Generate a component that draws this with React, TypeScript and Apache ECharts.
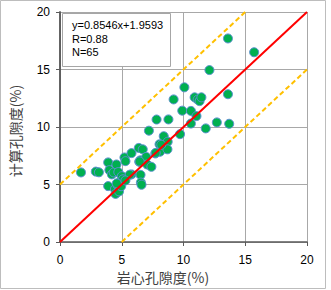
import React, { useEffect, useRef } from "react";
import * as echarts from "echarts";

const coreX = [
  1.7, 2.9, 3.15, 3.9, 3.9, 4.0, 4.2, 4.35, 4.57, 4.72,
  4.45, 4.5, 4.65, 4.8, 4.78, 4.95, 5.0, 5.1, 5.22, 5.3,
  5.79, 5.79, 5.65, 6.38, 6.42, 6.5, 6.7, 6.52, 6.55, 6.6,
  6.98, 7.06, 7.4, 7.2, 7.72, 7.82, 8.06, 8.1, 8.4, 8.72,
  8.7, 8.78, 9.2, 9.72, 9.9, 10.07, 10.6, 10.6, 10.9, 11.05,
  11.15, 11.3, 11.45, 11.8, 12.1, 12.7, 13.6, 13.6, 13.7, 15.72,
  7.75, 8.2, 6.45, 4.6, 5.3,
];
const calcY = [
  6.05, 6.12, 6.06, 6.92, 4.86, 6.25, 5.88, 6.05, 6.74, 6.08,
  4.6, 4.18, 4.95, 5.15, 4.4, 4.85, 5.72, 5.45, 7.35, 7.03,
  7.73, 5.88, 5.85, 8.18, 6.98, 7.1, 8.06, 5.84, 5.17, 4.98,
  7.4, 6.74, 6.54, 9.68, 7.7, 10.65, 8.5, 7.85, 9.2, 8.72,
  8.06, 10.66, 12.4, 9.38, 11.42, 13.45, 11.4, 10.3, 12.58, 10.95,
  12.38, 12.25, 12.58, 9.88, 14.95, 10.4, 17.7, 12.85, 10.28, 16.5,
  7.75, 8.45, 7.0, 5.1, 5.35,
];

const axisMin = 0;
const axisMax = 20;
const axisStep = 5;

const diagonalLine = [[0, 0], [20, 20]];
const upperBand = [[0, 5], [15, 20]];
const lowerBand = [[5, 0], [20, 15]];

const statLines = ["y=0.8546x+1.9593", "R=0.88", "N=65"];
const xTitle = "岩心孔隙度(%)";
const yTitle = "计算孔隙度(%)";

const numFont = '"Liberation Sans", "Noto Sans", sans-serif';
const cjkFont = '"Noto Sans CJK SC", "Noto Sans", sans-serif';

export default function App() {
  const ref = useRef<HTMLDivElement>(null);
  useEffect(() => {
    if (!ref.current) return;
    const chart = echarts.init(ref.current, undefined, { renderer: "svg" });
    const axisColor = "#5a5a5a";
    const gridColor = "#a8a8a8";
    const common = {
      type: "value" as const,
      min: axisMin,
      max: axisMax,
      interval: axisStep,
      axisLine: { show: true, onZero: false, lineStyle: { color: axisColor, width: 1.5 } },
      axisTick: { show: true, inside: false, length: 4, lineStyle: { color: axisColor, width: 1 } },
      splitLine: { show: true, lineStyle: { color: gridColor, width: 1 } },
    };
    chart.setOption({
      animation: false,
      backgroundColor: "#ffffff",
      grid: { left: 60, right: 24, top: 12, bottom: 48 },
      xAxis: {
        ...common,
        axisLabel: { margin: 12, fontSize: 12, color: "#000", fontFamily: numFont },
      },
      yAxis: [
        {
          ...common,
          axisLabel: { margin: 10, fontSize: 12, color: "#000", fontFamily: numFont },
        },
        {
          type: "value",
          position: "right",
          min: axisMin,
          max: axisMax,
          interval: axisStep,
          axisLine: { show: true, lineStyle: { color: axisColor, width: 1.5 } },
          axisTick: { show: false },
          axisLabel: { show: false },
          splitLine: { show: false },
        },
      ],
      series: [
        {
          type: "scatter",
          data: coreX.map((x, i) => [x, calcY[i]]),
          symbolSize: 9,
          itemStyle: { color: "#00b050", borderColor: "#5b8fd0", borderWidth: 1, opacity: 1 },
          z: 3,
        },
        {
          type: "line",
          data: diagonalLine,
          showSymbol: false,
          lineStyle: { color: "#ff0000", width: 2 },
          z: 4,
        },
        {
          type: "line",
          data: upperBand,
          showSymbol: false,
          lineStyle: { color: "#ffc000", width: 2, type: [5, 3] },
          z: 4,
        },
        {
          type: "line",
          data: lowerBand,
          showSymbol: false,
          lineStyle: { color: "#ffc000", width: 2, type: [5, 3] },
          z: 4,
        },
      ],
      graphic: [
        {
          type: "rect",
          z: 1,
          shape: { x: 0.5, y: 0.5, width: 325, height: 288 },
          style: { fill: "none", stroke: "#bdbdbd", lineWidth: 1 },
        },
        {
          type: "rect",
          z: 100,
          shape: { x: 62.5, y: 13.5, width: 108, height: 53 },
          style: { fill: "#ffffff", stroke: "#a6a6a6", lineWidth: 1 },
        },
        ...statLines.map((t, i) => ({
          type: "text",
          z: 101,
          x: 72,
          y: 25 + i * 13.7,
          style: {
            text: t,
            fill: "#000",
            font: `11px ${numFont}`,
            align: "left",
            verticalAlign: "middle",
          },
        })),
        {
          type: "text",
          z: 101,
          x: 163,
          y: 277,
          style: {
            text: xTitle,
            fill: "#404040",
            font: `14px ${cjkFont}`,
            align: "center",
            verticalAlign: "middle",
          },
        },
        {
          type: "text",
          z: 101,
          x: 15,
          y: 131,
          rotation: Math.PI / 2,
          style: {
            text: yTitle,
            fill: "#404040",
            font: `14px ${cjkFont}`,
            align: "center",
            verticalAlign: "middle",
          },
        },
      ],
    });
    return () => chart.dispose();
  }, []);
  return (
    <div
      ref={ref}
      style={{ position: "fixed", left: 0, top: 0, width: 331, height: 290 }}
    />
  );
}
